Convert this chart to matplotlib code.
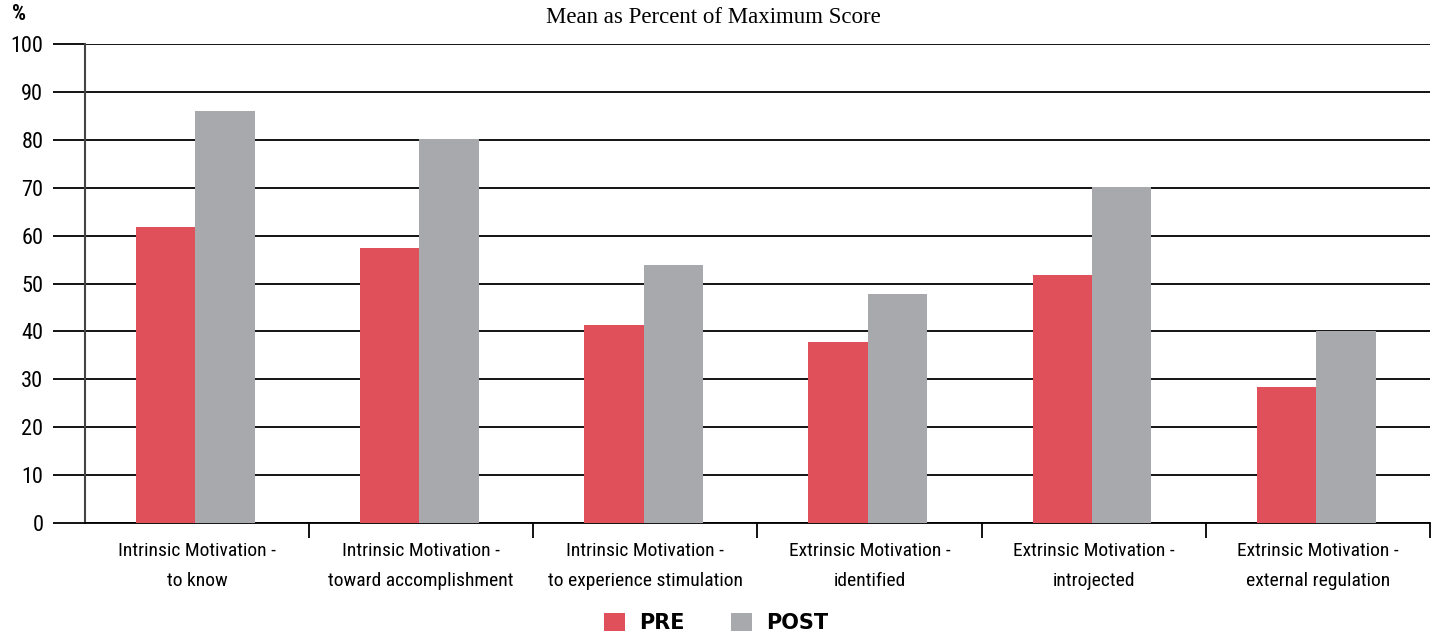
import matplotlib.pyplot as plt
from matplotlib import font_manager
import numpy as np

categories = [
    "Intrinsic Motivation -\nto know",
    "Intrinsic Motivation -\ntoward accomplishment",
    "Intrinsic Motivation -\nto experience stimulation",
    "Extrinsic Motivation -\nidentified",
    "Extrinsic Motivation -\nintrojected",
    "Extrinsic Motivation -\nexternal regulation",
]
pre = [61.8, 57.4, 41.3, 37.8, 51.8, 28.4]
post = [86.0, 80.2, 53.9, 47.8, 70.1, 40.1]
yticks = [0, 10, 20, 30, 40, 50, 60, 70, 80, 90, 100]

RED = "#E0505A"
GREY = "#A8A9AD"

# pick a narrow face for the axis text if one is around
installed = {f.name for f in font_manager.fontManager.ttflist}
narrow_name = "DejaVu Sans"
for cand in ["Liberation Sans Narrow", "DejaVu Sans Condensed", "Roboto Condensed",
             "Open Sans Condensed"]:
    if cand in installed:
        narrow_name = cand
        break
narrow = dict(family=[narrow_name, "DejaVu Sans"], stretch="condensed")

fig = plt.figure(figsize=(14.35, 6.35), dpi=100)
ax = fig.add_axes([85 / 1435, 112 / 635, 1345 / 1435, 479 / 635])

x = np.arange(len(categories))
w = 0.265
ax.bar(x - w / 2 - 0.008, pre, w, color=RED, label="PRE", zorder=3)
ax.bar(x + w / 2 - 0.008, post, w, color=GREY, label="POST", zorder=3)

ax.set_xlim(-0.5, len(categories) - 0.5)
ax.set_ylim(0, 100)

ax.set_yticks(yticks)
ax.set_yticklabels([str(v) for v in yticks], fontsize=16, **narrow)
ax.yaxis.grid(True, color="black", linewidth=1.3, zorder=0)
ax.tick_params(axis="y", length=23, width=1.3, color="black", pad=7)

ax.set_xticks(x)
ax.set_xticklabels(categories, fontsize=14, linespacing=1.8, **narrow)
ax.tick_params(axis="x", which="major", length=0, pad=14)
ax.set_xticks(np.arange(len(categories)) + 0.5, minor=True)
ax.tick_params(axis="x", which="minor", length=11, width=1.3, color="black")

for side in ["top", "right"]:
    ax.spines[side].set_visible(False)
ax.spines["left"].set_color("#444444")
ax.spines["left"].set_linewidth(1.5)
ax.spines["bottom"].set_color("black")
ax.spines["bottom"].set_linewidth(1.3)
ax.set_axisbelow(True)

fig.text(0.497, 0.972, "Mean as Percent of Maximum Score", ha="center", va="center",
         family="Liberation Serif", fontsize=16.5)
fig.text(0.013, 0.978, "%", ha="center", va="center", fontsize=16,
         fontweight="bold", **narrow)

fig.legend(loc="center", bbox_to_anchor=(0.499, 0.019), ncol=2, frameon=False,
           prop={"family": "DejaVu Sans", "weight": "bold", "size": 15},
           handlelength=1.0, handleheight=1.0, columnspacing=2.2, handletextpad=0.7)

fig.savefig("out.png", dpi=100)
